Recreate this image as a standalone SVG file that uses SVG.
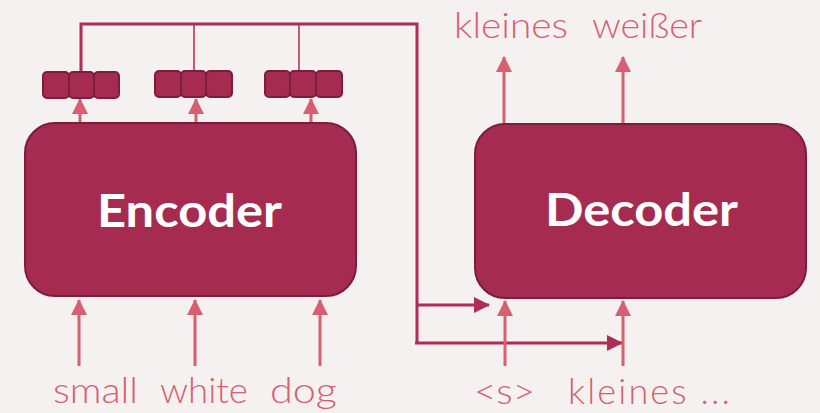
<svg xmlns="http://www.w3.org/2000/svg" width="820" height="413" viewBox="0 0 820 413">
  <defs>
    <style>
      .bg { fill: #F5F1F0; }
      .block { fill: #A62B50; stroke: #7B1D3B; stroke-width: 2; }
      .cell { fill: #A62B50; stroke: #7B1D3B; stroke-width: 2; }
      .title { font-family: Lato, "Open Sans", sans-serif; font-weight: 700; font-size: 45px; fill: #FFFFFF; }
      .word { font-family: Lato, "Open Sans", sans-serif; font-weight: 300; font-size: 36px; fill: #D65F70; }
      .flow { stroke: #D65F70; stroke-width: 3; fill: none; }
      .link { stroke: #AD2D55; stroke-width: 3; fill: none; }
      .thin { stroke: #AD2D55; stroke-width: 1.5; fill: none; }
    </style>
    <marker id="headLight" markerUnits="userSpaceOnUse" markerWidth="16" markerHeight="16" viewBox="0 0 16 16" refX="15" refY="8" orient="auto">
      <path d="M0,0 L16,8 L0,16 Z" fill="#D65F70"/>
    </marker>
    <marker id="headDark" markerUnits="userSpaceOnUse" markerWidth="16" markerHeight="16" viewBox="0 0 16 16" refX="15" refY="8" orient="auto">
      <path d="M0,0 L16,8 L0,16 Z" fill="#AD2D55"/>
    </marker>
  </defs>

  <rect class="bg" x="0" y="0" width="820" height="413"/>

  <!-- connectors -->
  <g id="connectors">
    <!-- encoder states gathered into the context line -->
    <polyline class="link" points="81,72 81,24 417,24 417,344"/>
    <line class="thin" x1="194" y1="24" x2="194" y2="72"/>
    <line class="thin" x1="299" y1="24" x2="299" y2="72"/>
    <line class="link" x1="417" y1="305" x2="489" y2="305" marker-end="url(#headDark)"/>
    <line class="link" x1="415" y1="343" x2="622" y2="343" marker-end="url(#headDark)"/>

    <!-- encoder outputs to cells -->
    <line class="flow" x1="80" y1="126" x2="80" y2="99" marker-end="url(#headLight)"/>
    <line class="flow" x1="196" y1="126" x2="196" y2="99" marker-end="url(#headLight)"/>
    <line class="flow" x1="311" y1="126" x2="311" y2="99" marker-end="url(#headLight)"/>

    <!-- encoder inputs -->
    <line class="flow" x1="79" y1="366" x2="79" y2="300" marker-end="url(#headLight)"/>
    <line class="flow" x1="195" y1="366" x2="195" y2="300" marker-end="url(#headLight)"/>
    <line class="flow" x1="320" y1="366" x2="320" y2="300" marker-end="url(#headLight)"/>

    <!-- decoder inputs -->
    <line class="flow" x1="505" y1="366" x2="505" y2="301" marker-end="url(#headLight)"/>
    <line class="flow" x1="623" y1="366" x2="623" y2="301" marker-end="url(#headLight)"/>

    <!-- decoder outputs -->
    <line class="flow" x1="504" y1="126" x2="504" y2="57" marker-end="url(#headLight)"/>
    <line class="flow" x1="623" y1="126" x2="623" y2="57" marker-end="url(#headLight)"/>
  </g>

  <!-- hidden state cells -->
  <g id="states1">
    <rect class="cell" x="43" y="72" width="26" height="26" rx="4"/>
    <rect class="cell" x="69" y="72" width="25" height="26" rx="4"/>
    <rect class="cell" x="94" y="72" width="25" height="26" rx="4"/>
  </g>
  <g id="states2">
    <rect class="cell" x="155" y="71" width="26" height="26" rx="4"/>
    <rect class="cell" x="181" y="71" width="25" height="26" rx="4"/>
    <rect class="cell" x="206" y="71" width="26" height="26" rx="4"/>
  </g>
  <g id="states3">
    <rect class="cell" x="265" y="71" width="25" height="26" rx="4"/>
    <rect class="cell" x="290" y="71" width="26" height="26" rx="4"/>
    <rect class="cell" x="316" y="71" width="26" height="26" rx="4"/>
  </g>

  <g id="encoder">
    <rect class="block" x="25" y="123" width="331" height="173" rx="30"/>
    <text class="title" x="97" y="227" textLength="185" lengthAdjust="spacingAndGlyphs">Encoder</text>
  </g>

  <g id="decoder">
    <rect class="block" x="475" y="124" width="331" height="174" rx="30"/>
    <text class="title" x="545" y="226" textLength="193" lengthAdjust="spacingAndGlyphs">Decoder</text>
  </g>

  <!-- words -->
  <g id="source-words">
    <text class="word" x="53" y="403" textLength="85" lengthAdjust="spacingAndGlyphs">small</text>
    <text class="word" x="160" y="403" textLength="88" lengthAdjust="spacingAndGlyphs">white</text>
    <text class="word" x="270" y="403" textLength="67" lengthAdjust="spacingAndGlyphs">dog</text>
  </g>
  <g id="decoder-inputs">
    <text class="word" x="474" y="404" textLength="61" lengthAdjust="spacingAndGlyphs">&lt;s&gt;</text>
    <text class="word" x="568" y="404" textLength="162" lengthAdjust="spacing">kleines ...</text>
  </g>
  <g id="decoder-outputs">
    <text class="word" x="454" y="38" textLength="114" lengthAdjust="spacingAndGlyphs">kleines</text>
    <text class="word" x="592" y="38" textLength="110" lengthAdjust="spacingAndGlyphs">weißer</text>
  </g>
</svg>
